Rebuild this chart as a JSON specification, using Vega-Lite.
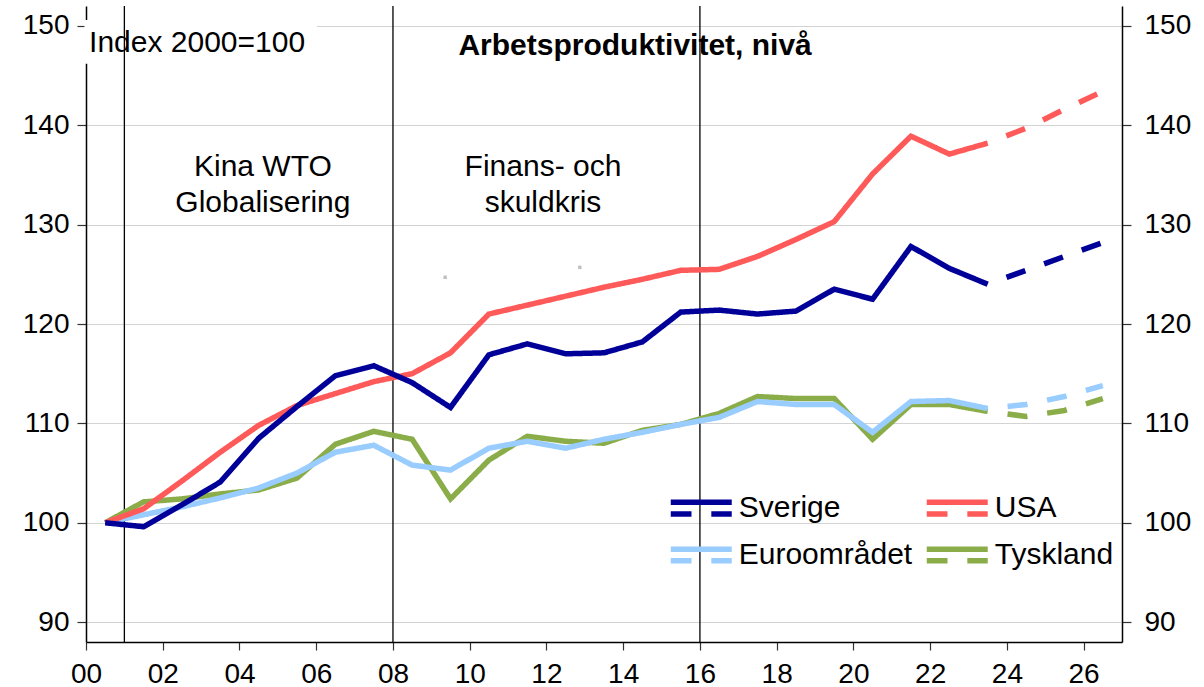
{
  "$schema": "https://vega.github.io/schema/vega-lite/v6.json",
  "width": 1036,
  "height": 636,
  "autosize": {"type": "none"},
  "padding": {"left": 86, "top": 6, "right": 82, "bottom": 45},
  "background": "white",
  "config": {
    "view": {"stroke": null},
    "font": "Liberation Sans",
    "text": {"font": "Liberation Sans"}
  },
  "datasets": {
    "series": [
      {"series": "Tyskland", "kind": "Utfall", "year": 2000.5, "value": 100},
      {"series": "Tyskland", "kind": "Utfall", "year": 2001.5, "value": 102.1},
      {"series": "Tyskland", "kind": "Utfall", "year": 2002.5, "value": 102.4},
      {"series": "Tyskland", "kind": "Utfall", "year": 2003.5, "value": 102.9},
      {"series": "Tyskland", "kind": "Utfall", "year": 2004.5, "value": 103.3},
      {"series": "Tyskland", "kind": "Utfall", "year": 2005.5, "value": 104.5},
      {"series": "Tyskland", "kind": "Utfall", "year": 2006.5, "value": 107.9},
      {"series": "Tyskland", "kind": "Utfall", "year": 2007.5, "value": 109.2},
      {"series": "Tyskland", "kind": "Utfall", "year": 2008.5, "value": 108.4},
      {"series": "Tyskland", "kind": "Utfall", "year": 2009.5, "value": 102.4},
      {"series": "Tyskland", "kind": "Utfall", "year": 2010.5, "value": 106.3},
      {"series": "Tyskland", "kind": "Utfall", "year": 2011.5, "value": 108.7},
      {"series": "Tyskland", "kind": "Utfall", "year": 2012.5, "value": 108.2},
      {"series": "Tyskland", "kind": "Utfall", "year": 2013.5, "value": 108.0},
      {"series": "Tyskland", "kind": "Utfall", "year": 2014.5, "value": 109.3},
      {"series": "Tyskland", "kind": "Utfall", "year": 2015.5, "value": 109.9},
      {"series": "Tyskland", "kind": "Utfall", "year": 2016.5, "value": 111.0},
      {"series": "Tyskland", "kind": "Utfall", "year": 2017.5, "value": 112.7},
      {"series": "Tyskland", "kind": "Utfall", "year": 2018.5, "value": 112.5},
      {"series": "Tyskland", "kind": "Utfall", "year": 2019.5, "value": 112.5},
      {"series": "Tyskland", "kind": "Utfall", "year": 2020.5, "value": 108.4},
      {"series": "Tyskland", "kind": "Utfall", "year": 2021.5, "value": 111.9},
      {"series": "Tyskland", "kind": "Utfall", "year": 2022.5, "value": 111.9},
      {"series": "Tyskland", "kind": "Utfall", "year": 2023.5, "value": 111.2},
      {"series": "Tyskland", "kind": "Prognos", "year": 2023.5, "value": 111.2},
      {"series": "Tyskland", "kind": "Prognos", "year": 2024.5, "value": 110.7},
      {"series": "Tyskland", "kind": "Prognos", "year": 2025.5, "value": 111.3},
      {"series": "Tyskland", "kind": "Prognos", "year": 2026.5, "value": 112.5},
      {"series": "Euroområdet", "kind": "Utfall", "year": 2000.5, "value": 100},
      {"series": "Euroområdet", "kind": "Utfall", "year": 2001.5, "value": 100.8},
      {"series": "Euroområdet", "kind": "Utfall", "year": 2002.5, "value": 101.6},
      {"series": "Euroområdet", "kind": "Utfall", "year": 2003.5, "value": 102.5},
      {"series": "Euroområdet", "kind": "Utfall", "year": 2004.5, "value": 103.5},
      {"series": "Euroområdet", "kind": "Utfall", "year": 2005.5, "value": 105.0},
      {"series": "Euroområdet", "kind": "Utfall", "year": 2006.5, "value": 107.1},
      {"series": "Euroområdet", "kind": "Utfall", "year": 2007.5, "value": 107.8},
      {"series": "Euroområdet", "kind": "Utfall", "year": 2008.5, "value": 105.8},
      {"series": "Euroområdet", "kind": "Utfall", "year": 2009.5, "value": 105.3},
      {"series": "Euroområdet", "kind": "Utfall", "year": 2010.5, "value": 107.5},
      {"series": "Euroområdet", "kind": "Utfall", "year": 2011.5, "value": 108.2},
      {"series": "Euroområdet", "kind": "Utfall", "year": 2012.5, "value": 107.5},
      {"series": "Euroområdet", "kind": "Utfall", "year": 2013.5, "value": 108.4},
      {"series": "Euroområdet", "kind": "Utfall", "year": 2014.5, "value": 109.1},
      {"series": "Euroområdet", "kind": "Utfall", "year": 2015.5, "value": 109.9},
      {"series": "Euroområdet", "kind": "Utfall", "year": 2016.5, "value": 110.6},
      {"series": "Euroområdet", "kind": "Utfall", "year": 2017.5, "value": 112.2},
      {"series": "Euroområdet", "kind": "Utfall", "year": 2018.5, "value": 111.9},
      {"series": "Euroområdet", "kind": "Utfall", "year": 2019.5, "value": 111.9},
      {"series": "Euroområdet", "kind": "Utfall", "year": 2020.5, "value": 109.1},
      {"series": "Euroområdet", "kind": "Utfall", "year": 2021.5, "value": 112.2},
      {"series": "Euroområdet", "kind": "Utfall", "year": 2022.5, "value": 112.3},
      {"series": "Euroområdet", "kind": "Utfall", "year": 2023.5, "value": 111.5},
      {"series": "Euroområdet", "kind": "Prognos", "year": 2023.5, "value": 111.5},
      {"series": "Euroområdet", "kind": "Prognos", "year": 2024.5, "value": 111.9},
      {"series": "Euroområdet", "kind": "Prognos", "year": 2025.5, "value": 112.7},
      {"series": "Euroområdet", "kind": "Prognos", "year": 2026.5, "value": 113.8},
      {"series": "USA", "kind": "Utfall", "year": 2000.5, "value": 100},
      {"series": "USA", "kind": "Utfall", "year": 2001.5, "value": 101.4},
      {"series": "USA", "kind": "Utfall", "year": 2002.5, "value": 104.2},
      {"series": "USA", "kind": "Utfall", "year": 2003.5, "value": 107.1},
      {"series": "USA", "kind": "Utfall", "year": 2004.5, "value": 109.8},
      {"series": "USA", "kind": "Utfall", "year": 2005.5, "value": 111.8},
      {"series": "USA", "kind": "Utfall", "year": 2006.5, "value": 113.0},
      {"series": "USA", "kind": "Utfall", "year": 2007.5, "value": 114.2},
      {"series": "USA", "kind": "Utfall", "year": 2008.5, "value": 115.0},
      {"series": "USA", "kind": "Utfall", "year": 2009.5, "value": 117.1},
      {"series": "USA", "kind": "Utfall", "year": 2010.5, "value": 121.0},
      {"series": "USA", "kind": "Utfall", "year": 2011.5, "value": 121.9},
      {"series": "USA", "kind": "Utfall", "year": 2012.5, "value": 122.8},
      {"series": "USA", "kind": "Utfall", "year": 2013.5, "value": 123.7},
      {"series": "USA", "kind": "Utfall", "year": 2014.5, "value": 124.5},
      {"series": "USA", "kind": "Utfall", "year": 2015.5, "value": 125.4},
      {"series": "USA", "kind": "Utfall", "year": 2016.5, "value": 125.5},
      {"series": "USA", "kind": "Utfall", "year": 2017.5, "value": 126.8},
      {"series": "USA", "kind": "Utfall", "year": 2018.5, "value": 128.5},
      {"series": "USA", "kind": "Utfall", "year": 2019.5, "value": 130.3},
      {"series": "USA", "kind": "Utfall", "year": 2020.5, "value": 135.1},
      {"series": "USA", "kind": "Utfall", "year": 2021.5, "value": 138.9},
      {"series": "USA", "kind": "Utfall", "year": 2022.5, "value": 137.1},
      {"series": "USA", "kind": "Utfall", "year": 2023.5, "value": 138.2},
      {"series": "USA", "kind": "Prognos", "year": 2023.5, "value": 138.2},
      {"series": "USA", "kind": "Prognos", "year": 2024.5, "value": 139.7},
      {"series": "USA", "kind": "Prognos", "year": 2025.5, "value": 141.6},
      {"series": "USA", "kind": "Prognos", "year": 2026.5, "value": 143.4},
      {"series": "Sverige", "kind": "Utfall", "year": 2000.5, "value": 100},
      {"series": "Sverige", "kind": "Utfall", "year": 2001.5, "value": 99.6},
      {"series": "Sverige", "kind": "Utfall", "year": 2002.5, "value": 101.8},
      {"series": "Sverige", "kind": "Utfall", "year": 2003.5, "value": 104.1},
      {"series": "Sverige", "kind": "Utfall", "year": 2004.5, "value": 108.5},
      {"series": "Sverige", "kind": "Utfall", "year": 2005.5, "value": 111.7},
      {"series": "Sverige", "kind": "Utfall", "year": 2006.5, "value": 114.8},
      {"series": "Sverige", "kind": "Utfall", "year": 2007.5, "value": 115.8},
      {"series": "Sverige", "kind": "Utfall", "year": 2008.5, "value": 114.1},
      {"series": "Sverige", "kind": "Utfall", "year": 2009.5, "value": 111.6},
      {"series": "Sverige", "kind": "Utfall", "year": 2010.5, "value": 116.9},
      {"series": "Sverige", "kind": "Utfall", "year": 2011.5, "value": 118.0},
      {"series": "Sverige", "kind": "Utfall", "year": 2012.5, "value": 117.0},
      {"series": "Sverige", "kind": "Utfall", "year": 2013.5, "value": 117.1},
      {"series": "Sverige", "kind": "Utfall", "year": 2014.5, "value": 118.2},
      {"series": "Sverige", "kind": "Utfall", "year": 2015.5, "value": 121.2},
      {"series": "Sverige", "kind": "Utfall", "year": 2016.5, "value": 121.4},
      {"series": "Sverige", "kind": "Utfall", "year": 2017.5, "value": 121.0},
      {"series": "Sverige", "kind": "Utfall", "year": 2018.5, "value": 121.3},
      {"series": "Sverige", "kind": "Utfall", "year": 2019.5, "value": 123.5},
      {"series": "Sverige", "kind": "Utfall", "year": 2020.5, "value": 122.5},
      {"series": "Sverige", "kind": "Utfall", "year": 2021.5, "value": 127.8},
      {"series": "Sverige", "kind": "Utfall", "year": 2022.5, "value": 125.6},
      {"series": "Sverige", "kind": "Utfall", "year": 2023.5, "value": 124.0},
      {"series": "Sverige", "kind": "Prognos", "year": 2023.5, "value": 124.0},
      {"series": "Sverige", "kind": "Prognos", "year": 2024.5, "value": 125.4},
      {"series": "Sverige", "kind": "Prognos", "year": 2025.5, "value": 126.8},
      {"series": "Sverige", "kind": "Prognos", "year": 2026.5, "value": 128.2}
    ],
    "events": [{"year": 2001}, {"year": 2008}, {"year": 2016}],
    "box": [{"x": 1999.96, "x2": 2006.02, "y": 146.2, "y2": 150.6}],
    "specks": [{"year": 2009.36, "value": 124.7}, {"year": 2012.87, "value": 125.7}],
    "notes": [
      {"kind": "index", "label": "Index 2000=100", "year": 2000.08, "value": 148.3},
      {"kind": "title", "label": "Arbetsproduktivitet, nivå", "year": 2014.31, "value": 148.0},
      {"kind": "period", "label": "Kina WTO\nGlobalisering", "year": 2004.61, "value": 135.8},
      {"kind": "period", "label": "Finans- och\nskuldkris", "year": 2011.91, "value": 135.8}
    ]
  },
  "layer": [
    {
      "data": {"name": "box"},
      "mark": {"type": "rect", "fill": "white", "stroke": null},
      "encoding": {
        "x": {"field": "x", "type": "quantitative", "scale": {"domain": [2000, 2027], "nice": false, "zero": false}, "axis": null},
        "x2": {"field": "x2"},
        "y": {"field": "y", "type": "quantitative", "scale": {"domain": [88, 152], "nice": false, "zero": false}, "axis": null},
        "y2": {"field": "y2"}
      }
    },
    {
      "data": {"name": "events"},
      "mark": {"type": "rule", "color": "black", "strokeWidth": 1.3},
      "encoding": {
        "x": {"field": "year", "type": "quantitative", "scale": {"domain": [2000, 2027], "nice": false, "zero": false}, "axis": null}
      }
    },
    {
      "data": {"name": "specks"},
      "mark": {"type": "square", "color": "#C0C0C0", "size": 12, "opacity": 1},
      "encoding": {
        "x": {"field": "year", "type": "quantitative", "scale": {"domain": [2000, 2027], "nice": false, "zero": false}, "axis": null},
        "y": {"field": "value", "type": "quantitative", "scale": {"domain": [88, 152], "nice": false, "zero": false},
          "axis": {"orient": "right", "title": null, "values": [90, 100, 110, 120, 130, 140, 150], "grid": false,
            "domainColor": "black", "domainWidth": 1.5, "tickColor": "#333333", "tickSize": 9, "tickWidth": 1.2,
            "labelFontSize": 28, "labelPadding": 13, "labelColor": "black", "labelFont": "Liberation Sans"}}
      }
    },
    {
      "data": {"name": "series"},
      "mark": {"type": "line", "strokeWidth": 5.5, "strokeDashOffset": 20},
      "encoding": {
        "x": {"field": "year", "type": "quantitative", "scale": {"domain": [2000, 2027], "nice": false, "zero": false},
          "axis": {"orient": "bottom", "title": null, "values": [2000, 2002, 2004, 2006, 2008, 2010, 2012, 2014, 2016, 2018, 2020, 2022, 2024, 2026],
            "labelExpr": "substring('' + datum.value, 2, 4)", "grid": false, "domainColor": "black", "domainWidth": 1.5,
            "tickColor": "#333333", "tickSize": 8, "tickWidth": 1.2, "labelFontSize": 28, "labelPadding": 10,
            "labelColor": "black", "labelFont": "Liberation Sans", "labelFlush": false, "labelOverlap": false}},
        "y": {"field": "value", "type": "quantitative", "scale": {"domain": [88, 152], "nice": false, "zero": false},
          "axis": {"orient": "left", "title": null, "values": [90, 100, 110, 120, 130, 140, 150], "grid": true,
            "gridColor": "#D3D3D3", "gridWidth": 1, "domainColor": "black", "domainWidth": 1.5, "tickColor": "#333333",
            "tickSize": 9, "tickWidth": 1.2, "labelFontSize": 28, "labelPadding": 8, "labelColor": "black", "labelFont": "Liberation Sans"}},
        "color": {"field": "series", "type": "nominal",
          "scale": {"domain": ["Sverige", "USA", "Euroområdet", "Tyskland"], "range": ["#000099", "#FF5A5A", "#99CCFF", "#8AAD4A"]},
          "legend": {"title": null, "orient": "none", "legendX": 582, "legendY": 484, "columns": 2, "direction": "horizontal",
            "symbolType": "M-2,-0.38H2M-2,0.38H-0.64M0.66,0.38H2", "symbolSize": 930, "symbolStrokeWidth": 5.5,
            "symbolOffset": 15.25,
            "labelFontSize": 30, "labelFont": "Liberation Sans", "labelColor": "black", "labelOffset": 19.5,
            "columnPadding": 2, "rowPadding": 12, "padding": 0, "labelLimit": 400}},
        "strokeDash": {"field": "kind", "type": "nominal",
          "scale": {"domain": ["Utfall", "Prognos"], "range": [[1, 0], [20, 20]]}, "legend": null}
      }
    },
    {
      "mark": {"type": "rule", "color": "black", "strokeWidth": 1.3},
      "encoding": {
        "y": {"datum": 100, "type": "quantitative", "scale": {"domain": [88, 152], "nice": false, "zero": false}, "axis": null}
      }
    },
    {
      "data": {"name": "notes"},
      "transform": [{"filter": "datum.kind === 'index'"}],
      "mark": {"type": "text", "align": "left", "baseline": "middle", "fontSize": 30, "color": "black", "font": "Liberation Sans"},
      "encoding": {
        "x": {"field": "year", "type": "quantitative", "scale": {"domain": [2000, 2027], "nice": false, "zero": false}, "axis": null},
        "y": {"field": "value", "type": "quantitative", "scale": {"domain": [88, 152], "nice": false, "zero": false}, "axis": null},
        "text": {"field": "label", "type": "nominal"}
      }
    },
    {
      "data": {"name": "notes"},
      "transform": [{"filter": "datum.kind === 'title'"}],
      "mark": {"type": "text", "align": "center", "baseline": "middle", "fontSize": 30, "fontWeight": "bold", "color": "black", "font": "Liberation Sans"},
      "encoding": {
        "x": {"field": "year", "type": "quantitative", "scale": {"domain": [2000, 2027], "nice": false, "zero": false}, "axis": null},
        "y": {"field": "value", "type": "quantitative", "scale": {"domain": [88, 152], "nice": false, "zero": false}, "axis": null},
        "text": {"field": "label", "type": "nominal"}
      }
    },
    {
      "data": {"name": "notes"},
      "transform": [{"filter": "datum.kind === 'period'"}],
      "mark": {"type": "text", "align": "center", "baseline": "middle", "fontSize": 30, "lineHeight": 36, "lineBreak": "\n", "color": "black", "font": "Liberation Sans"},
      "encoding": {
        "x": {"field": "year", "type": "quantitative", "scale": {"domain": [2000, 2027], "nice": false, "zero": false}, "axis": null},
        "y": {"field": "value", "type": "quantitative", "scale": {"domain": [88, 152], "nice": false, "zero": false}, "axis": null},
        "text": {"field": "label", "type": "nominal"}
      }
    }
  ],
  "resolve": {"axis": {"x": "independent", "y": "independent"}}
}
